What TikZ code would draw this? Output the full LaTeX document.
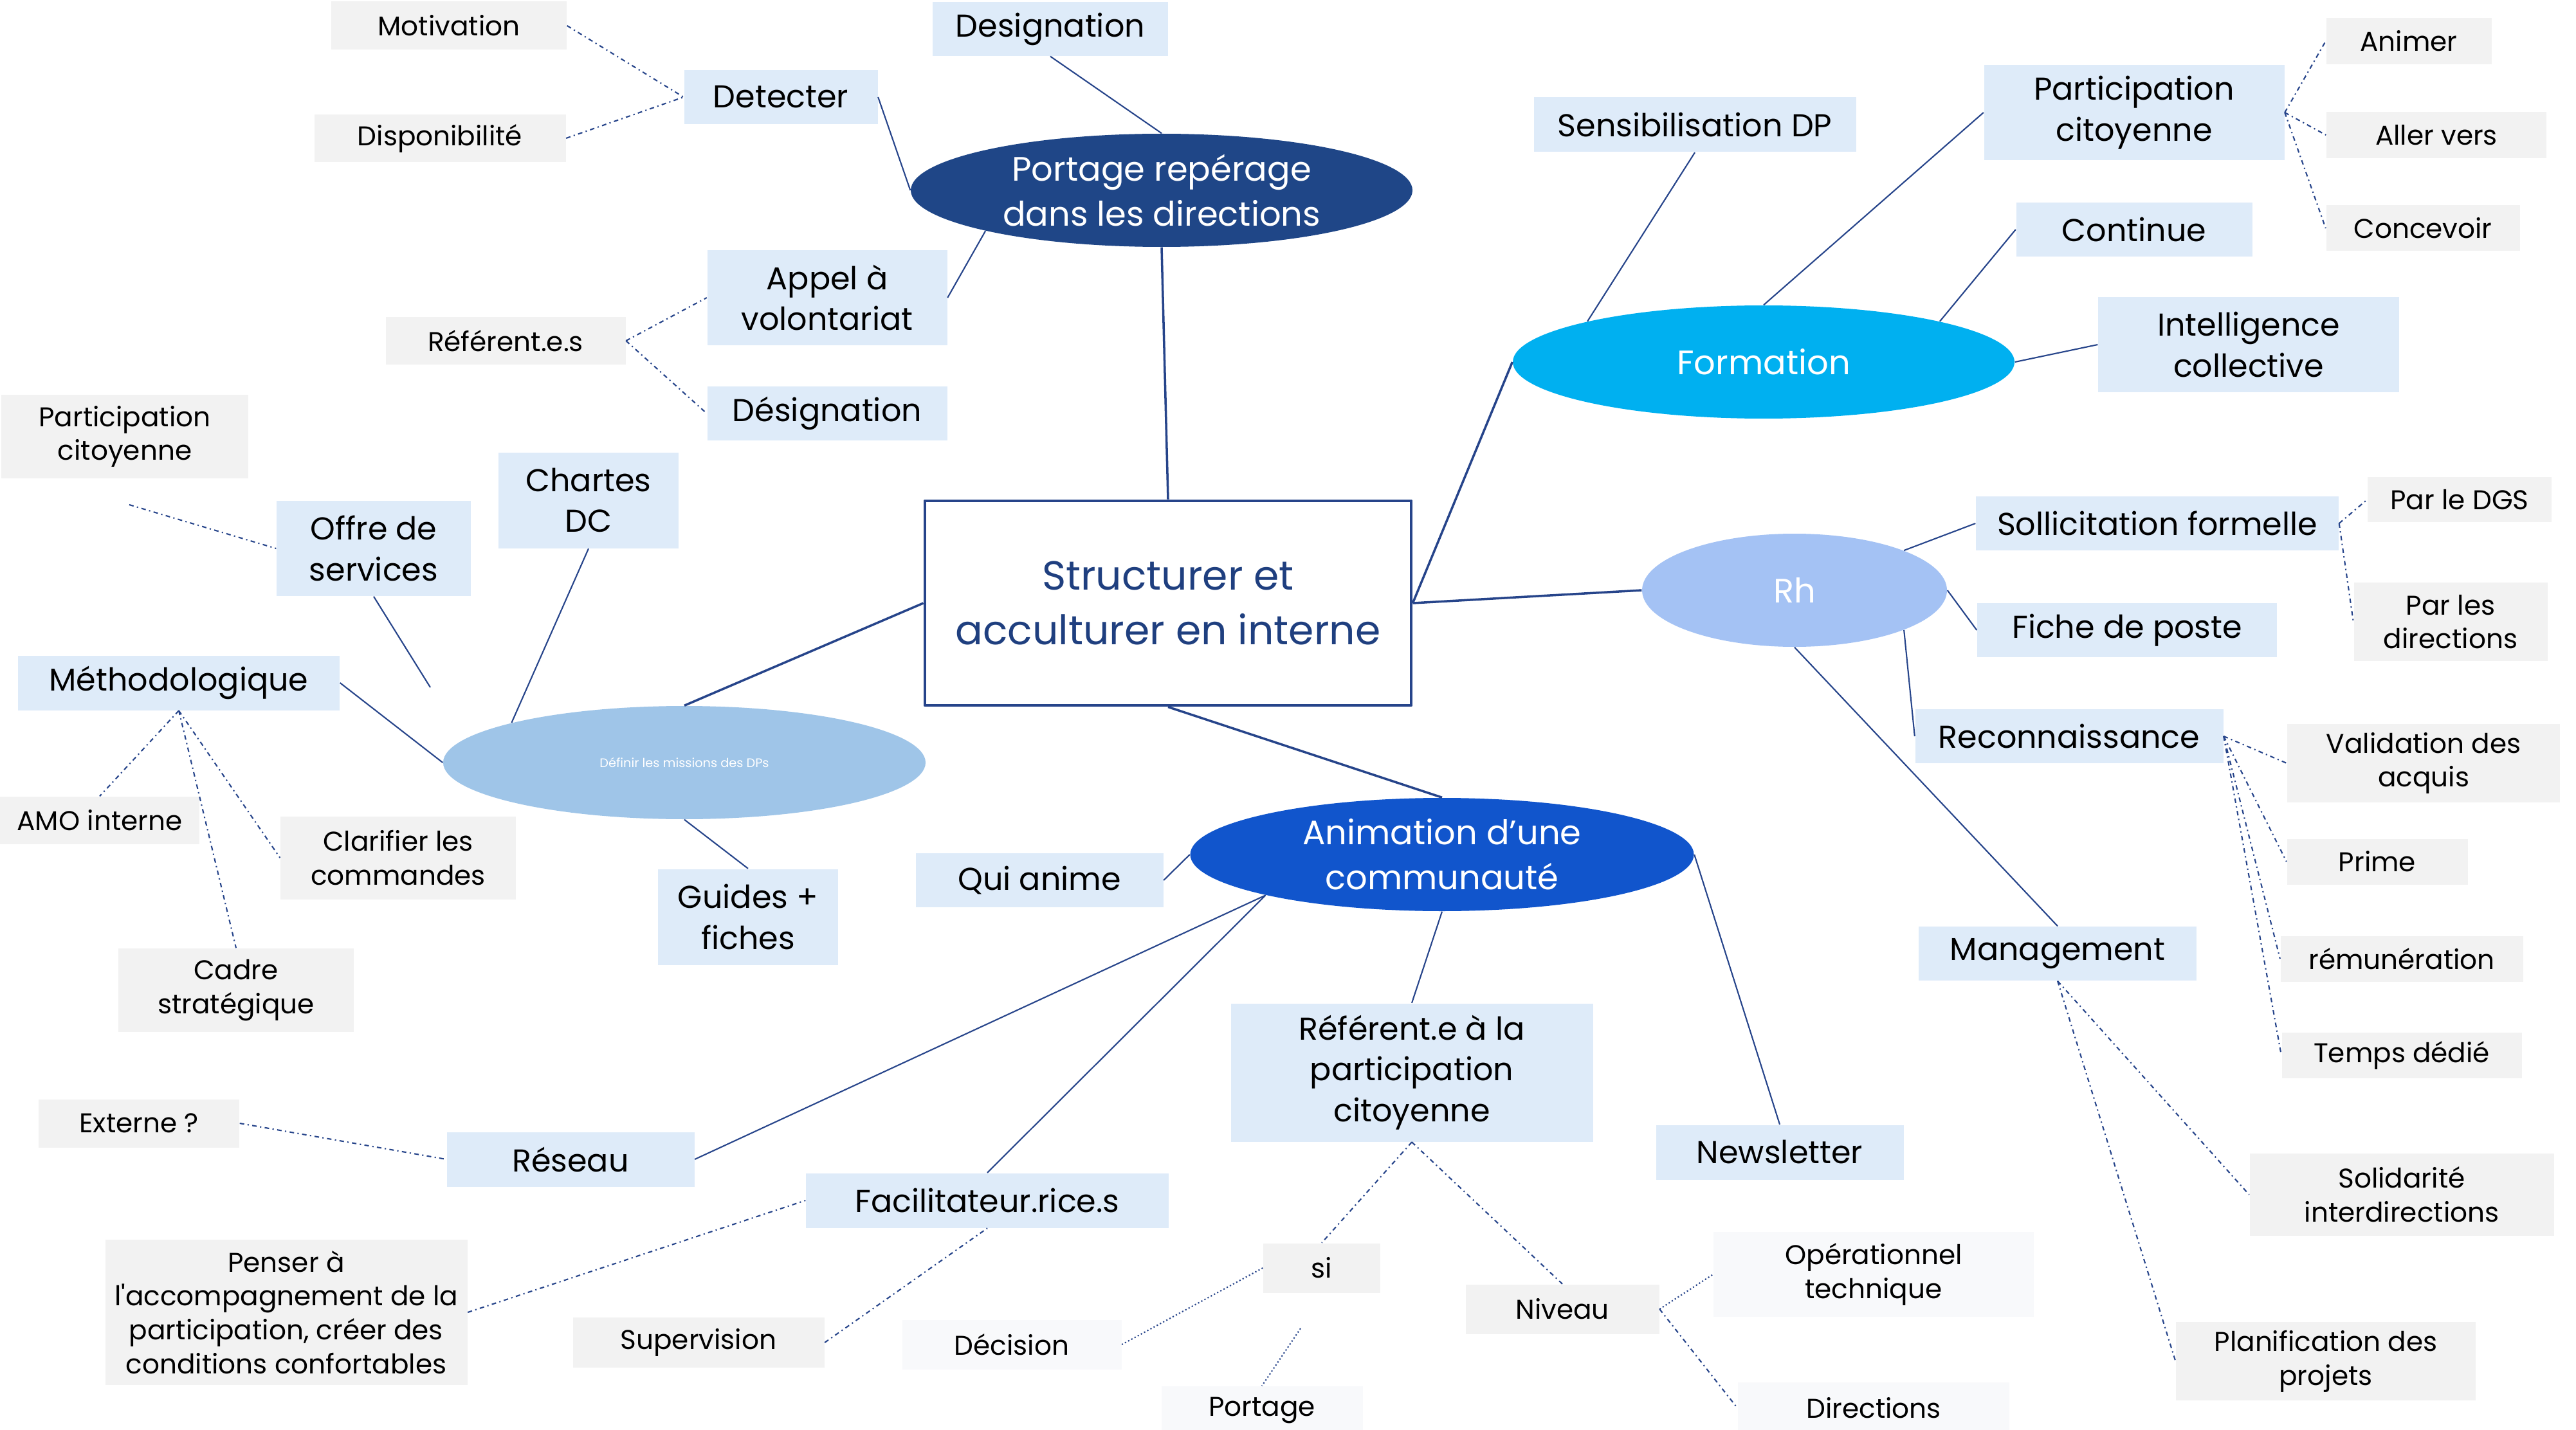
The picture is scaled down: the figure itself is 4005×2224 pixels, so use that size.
\documentclass[tikz,border=0pt]{standalone}
\usepackage{fontspec}
\setmainfont{Poppins}
\usetikzlibrary{shapes.geometric}
\definecolor{linkblue}{RGB}{38,68,138}
\definecolor{titleblue}{RGB}{31,63,127}
\definecolor{boxblue}{RGB}{222,235,249}
\definecolor{boxgray}{RGB}{242,242,242}
\definecolor{boxpale}{RGB}{248,249,251}
\definecolor{portblue}{RGB}{31,70,135}
\definecolor{formblue}{RGB}{0,176,240}
\definecolor{rhblue}{RGB}{164,194,244}
\definecolor{animblue}{RGB}{17,85,204}
\definecolor{defblue}{RGB}{159,197,232}
\begin{document}
\begin{tikzpicture}[x=0.1mm,y=-0.1mm,line join=round,
	every node/.style={inner sep=0pt,align=center},
	sz/.style 2 args={minimum width=#1mm,minimum height=#2mm},
	topic/.style={fill=boxblue,font=\fontsize{14}{18}\selectfont},
	leafbox/.style={fill=boxgray,font=\fontsize{12}{15}\selectfont},
	palebox/.style={fill=boxpale,font=\fontsize{12}{15}\selectfont},
	oval/.style={ellipse,minimum width=78mm,minimum height=17.6mm,text=white,font=\fontsize{15}{20}\selectfont},
	trunk/.style={draw=linkblue,line width=1pt},
	link/.style={draw=linkblue,line width=0.6pt},
	twig/.style={draw=linkblue,line width=0.6pt,dash pattern=on 2pt off 1.5pt on 0.6pt off 1.5pt},
	dots/.style={draw=linkblue,line width=0.6pt,densely dotted}]
	\path[use as bounding box,fill=white] (0,0) rectangle (4005,2224);
	% centre et bulles
	\node[draw=linkblue,line width=1.4pt,fill=white,sz={75.6}{31.8},text=titleblue,font=\fontsize{18}{24}\selectfont] (centre) at (1816,938) {Structurer et\\acculturer en interne};
	\node[oval,fill=portblue] (portage) at (1806,296) {Portage repérage\\dans les directions};
	\node[oval,fill=formblue] (formation) at (2742,563) {Formation};
	\node[oval,fill=rhblue,minimum width=47.4mm] (rh) at (2790,918) {Rh};
	\node[oval,fill=animblue,minimum width=78.3mm] (anim) at (2242,1329) {Animation d’une\\communauté};
	\node[oval,fill=defblue,minimum width=75mm,font=\fontsize{5.5}{7}\selectfont] (def) at (1064,1186) {Définir les missions des DPs};
	% branches
	\node[topic,sz={36.6}{8.4}] (designation) at (1633,45) {Designation};
	\node[topic,sz={30.1}{8.4}] (detecter) at (1214,151) {Detecter};
	\node[topic,sz={37.3}{14.8}] (appel) at (1286,463) {Appel à\\volontariat};
	\node[topic,sz={37.3}{8.5}] (designationb) at (1286,643) {Désignation};
	\node[topic,sz={28}{14.9}] (chartes) at (915,778) {Chartes\\DC};
	\node[topic,sz={30.2}{14.8}] (offre) at (581,853) {Offre de\\services};
	\node[topic,sz={50}{8.5}] (methodo) at (278,1062) {Méthodologique};
	\node[topic,sz={28}{14.9}] (guides) at (1163,1426) {Guides +\\fiches};
	\node[topic,sz={38.5}{8.4}] (quianime) at (1616,1369) {Qui anime};
	\node[topic,sz={38.5}{8.5}] (reseau) at (887,1803) {Réseau};
	\node[topic,sz={56.4}{8.5}] (facil) at (1535,1867) {Facilitateur.rice.s};
	\node[topic,sz={56.3}{21.5}] (referent) at (2195,1668) {Référent.e à la\\participation\\citoyenne};
	\node[topic,sz={38.5}{8.5}] (newsletter) at (2767,1792) {Newsletter};
	\node[topic,sz={50.1}{8.5}] (sensib) at (2635,194) {Sensibilisation DP};
	\node[topic,sz={46.7}{14.8}] (partcit) at (3318,175) {Participation\\citoyenne};
	\node[topic,sz={36.7}{8.4}] (continue) at (3318,357) {Continue};
	\node[topic,sz={46.8}{14.8}] (intel) at (3496,536) {Intelligence\\collective};
	\node[topic,sz={56.4}{8.4}] (sollic) at (3354,814) {Sollicitation formelle};
	\node[topic,sz={46.6}{8.4}] (fiche) at (3307,980) {Fiche de poste};
	\node[topic,sz={47.9}{8.4}] (reconn) at (3217,1145) {Reconnaissance};
	\node[topic,sz={43.2}{8.4}] (manag) at (3199,1483) {Management};
	% feuilles
	\node[leafbox,sz={36.6}{7.5}] (motiv) at (698,40) {Motivation};
	\node[leafbox,sz={39.1}{7.4}] (dispo) at (684,215) {Disponibilité};
	\node[leafbox,sz={37.3}{7.4}] (referents) at (786,530) {Référent.e.s};
	\node[leafbox,sz={38.4}{13}] (partgray) at (194,679) {Participation\\citoyenne};
	\node[leafbox,sz={31}{7.4}] (amo) at (155,1276) {AMO interne};
	\node[leafbox,sz={36.6}{12.9}] (clarif) at (619,1334) {Clarifier les\\commandes};
	\node[leafbox,sz={36.6}{13}] (cadre) at (367,1540) {Cadre\\stratégique};
	\node[leafbox,sz={31.2}{7.5}] (externe) at (216,1747) {Externe ?};
	\node[leafbox,sz={56.3}{22.6}] (penser) at (445,2041) {Penser à\\l\textquotesingle accompagnement de la\\participation, créer des\\conditions confortables};
	\node[leafbox,sz={39.1}{7.8}] (superv) at (1086,2088) {Supervision};
	\node[leafbox,sz={18.2}{7.7}] (si) at (2055,1972) {si};
	\node[leafbox,sz={30.1}{7.7}] (niveau) at (2429,2036) {Niveau};
	\node[leafbox,sz={25.7}{7.2}] (animer) at (3745,64) {Animer};
	\node[leafbox,sz={34.2}{7.2}] (aller) at (3788,210) {Aller vers};
	\node[leafbox,sz={30.1}{7.1}] (concevoir) at (3767,355) {Concevoir};
	\node[leafbox,sz={28.6}{7}] (pardgs) at (3824,777) {Par le DGS};
	\node[leafbox,sz={30.1}{12.2}] (pardir) at (3810,967) {Par les\\directions};
	\node[leafbox,sz={42.4}{12.2}] (valid) at (3768,1187) {Validation des\\acquis};
	\node[leafbox,sz={28.1}{7.1}] (prime) at (3696,1340) {Prime};
	\node[leafbox,sz={37.7}{7.1}] (remun) at (3734,1491) {rémunération};
	\node[leafbox,sz={37.3}{7.1}] (temps) at (3734,1641) {Temps dédié};
	\node[leafbox,sz={47.3}{12.8}] (solid) at (3734,1858) {Solidarité\\interdirections};
	\node[leafbox,sz={46.6}{12.2}] (planif) at (3616,2117) {Planification des\\projets};
	\node[palebox,sz={34.1}{7.7}] (decision) at (1573,2091) {Décision};
	\node[palebox,sz={31.3}{7.4}] (portageleaf) at (1962,2193) {Portage};
	\node[palebox,sz={49.8}{13.2}] (operat) at (2913,1982) {Opérationnel\\technique};
	\node[palebox,sz={42.2}{8}] (directions) at (2913,2190) {Directions};
	\path (669,1069) coordinate (offreend)
		(201,785) coordinate (partend)
		(2022,2066) coordinate (sibelow);
	% liaisons
	\foreach \a/\b in {centre.north/portage.south, centre.east/formation.west, centre.east/rh.west, centre.west/def.north, centre.south/anim.north}
		\draw[trunk] (\a)--(\b);
	\foreach \a/\b in {designation.south/portage.north, detecter.east/portage.west, appel.east/portage.193,
		sensib.south/formation.167, formation.north/partcit.west, formation.13/continue.west, formation.east/intel.west,
		rh.20/sollic.west, rh.east/fiche.west, rh.-20/reconn.west, rh.south/manag.north,
		chartes.south/def.167, offre.south/offreend, methodo.east/def.west, def.south/guides.north,
		quianime.east/anim.west, reseau.east/anim.193, facil.north/anim.193, anim.south/referent.north, anim.east/newsletter.north}
		\draw[link] (\a)--(\b);
	\foreach \a/\b in {motiv.east/detecter.west, dispo.east/detecter.west, referents.east/appel.west, referents.east/designationb.west,
		partend/offre.west, methodo.south/amo.north, methodo.south/clarif.west, methodo.south/cadre.north,
		externe.east/reseau.west, penser.east/facil.west, superv.east/facil.south,
		partcit.east/animer.west, partcit.east/aller.west, partcit.east/concevoir.west,
		sollic.east/pardgs.west, sollic.east/pardir.west,
		reconn.east/valid.west, reconn.east/prime.west, reconn.east/remun.west, reconn.east/temps.west,
		manag.south/solid.west, manag.south/planif.west,
		referent.south/si.north, referent.south/niveau.north, niveau.east/directions.west}
		\draw[twig] (\a)--(\b);
	\foreach \a/\b in {si.west/decision.east, sibelow/portageleaf.north, niveau.east/operat.west}
		\draw[dots] (\a)--(\b);
\end{tikzpicture}
\end{document}
